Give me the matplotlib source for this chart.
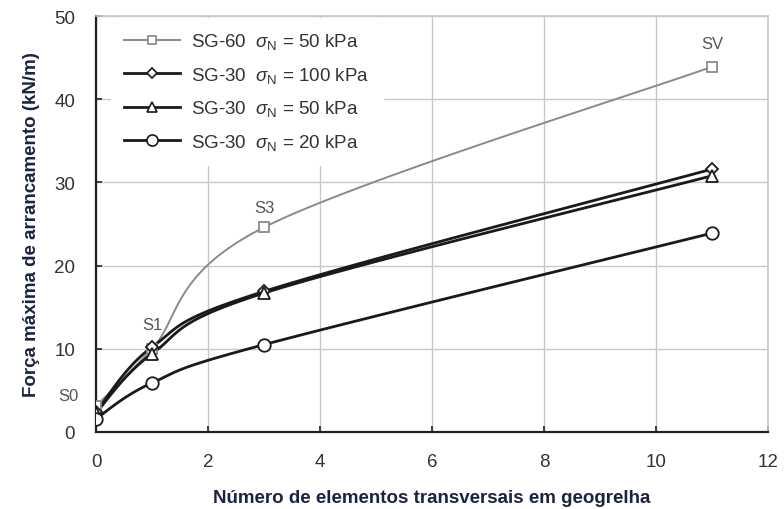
import numpy as np
import matplotlib
matplotlib.use('Agg')
import matplotlib.pyplot as plt

plt.rcParams['font.family'] = ['Liberation Sans', 'DejaVu Sans']
plt.rcParams['mathtext.fontset'] = 'custom'
plt.rcParams['mathtext.rm'] = 'Liberation Sans'
plt.rcParams['mathtext.it'] = 'Liberation Sans:italic'

# Pullout test results: number of transverse members vs. max pullout force
n_transv = [0, 1, 3, 11]
sg60_50 = [3.1, 10.0, 24.6, 43.9]
sg30_100 = [2.4, 10.2, 16.9, 31.6]
sg30_50 = [2.3, 9.4, 16.7, 30.8]
sg30_20 = [1.6, 5.9, 10.5, 23.9]

labels = [r'SG-60  $\sigma_{\rm N}$ = 50 kPa',
          r'SG-30  $\sigma_{\rm N}$ = 100 kPa',
          r'SG-30  $\sigma_{\rm N}$ = 50 kPa',
          r'SG-30  $\sigma_{\rm N}$ = 20 kPa']

stage_names = ['S0', 'S1', 'S3', 'SV']


def smooth_curve(x, y, steps=40):
    """Catmull-Rom style bezier smoothing (spreadsheet 'smoothed line')."""
    x = np.asarray(x, float)
    y = np.asarray(y, float)
    px, py = [], []
    n = len(x)
    for i in range(n - 1):
        x0, y0 = (x[i - 1], y[i - 1]) if i > 0 else (x[i], y[i])
        x3, y3 = (x[i + 2], y[i + 2]) if i + 2 < n else (x[i + 1], y[i + 1])
        c1x = x[i] + (x[i + 1] - x0) / 6
        c1y = y[i] + (y[i + 1] - y0) / 6
        c2x = x[i + 1] - (x3 - x[i]) / 6
        c2y = y[i + 1] - (y3 - y[i]) / 6
        t = np.linspace(0, 1, steps)
        bx = ((1 - t) ** 3 * x[i] + 3 * (1 - t) ** 2 * t * c1x
              + 3 * (1 - t) * t ** 2 * c2x + t ** 3 * x[i + 1])
        by = ((1 - t) ** 3 * y[i] + 3 * (1 - t) ** 2 * t * c1y
              + 3 * (1 - t) * t ** 2 * c2y + t ** 3 * y[i + 1])
        px.extend(bx)
        py.extend(by)
    return np.array(px), np.array(py)


fig = plt.figure(figsize=(7.84, 5.10), dpi=100)
ax = fig.add_axes([96 / 784, 77 / 510, 672 / 784, 416 / 510])

series = [
    (sg60_50, 's', '#8a8a8a', 1.4),
    (sg30_100, 'D', '#1a1a1a', 2.0),
    (sg30_50, '^', '#1a1a1a', 2.0),
    (sg30_20, 'o', '#1a1a1a', 2.0),
]
msizes = {'s': 7, 'D': 6, '^': 8, 'o': 9}

for (vals, mk, col, lw), lab in zip(series, labels):
    sx, sy = smooth_curve(n_transv, vals)
    ax.plot(sx, sy, color=col, lw=lw, zorder=3)
    ax.plot(n_transv, vals, ls='none', marker=mk, ms=msizes[mk],
            mfc='white', mec=col, mew=1.3, zorder=4)
    # legend proxy
    ax.plot([], [], color=col, lw=lw, marker=mk, ms=msizes[mk] - 1,
            mfc='white', mec=col, mew=1.2, label=lab)

# Stage annotations next to the SG-60 points
offsets = [(-20, 2), (0, 12), (0, 9), (0, 11)]
for xv, yv, name, (dx, dy) in zip(n_transv, sg60_50, stage_names, offsets):
    ax.annotate(name, (xv, yv), textcoords='offset points', xytext=(dx, dy),
                ha='center', va='bottom', fontsize=12, color='#555555')

ax.set_xlim(0, 12)
ax.set_ylim(0, 50)
ax.set_xticks(np.arange(0, 13, 2))
ax.set_yticks(np.arange(0, 51, 10))
ax.grid(True, color='#c8c8c8', lw=1.0, zorder=0)
ax.set_axisbelow(True)

for side in ['top', 'right']:
    ax.spines[side].set_color('#c8c8c8')
    ax.spines[side].set_linewidth(1.2)
for side in ['left', 'bottom']:
    ax.spines[side].set_color('#222222')
    ax.spines[side].set_linewidth(1.6)

ax.tick_params(direction='in', length=4, width=1.2, colors='#222222',
               labelcolor='#333333', labelsize=13.5)
ax.tick_params(axis='x', pad=15)
ax.tick_params(axis='y', pad=15)

ax.set_xlabel('Número de elementos transversais em geogrelha', fontsize=13.5,
              fontweight='bold', color='#1c2340', labelpad=14)
ax.set_ylabel('Força máxima de arrancamento (kN/m)', fontsize=13.5,
              fontweight='bold', color='#1c2340', labelpad=10)

leg = ax.legend(loc='upper left', bbox_to_anchor=(0.022, 0.995), frameon=True,
                fontsize=13.5, facecolor='white', edgecolor='white',
                framealpha=1.0, handlelength=3.0, borderaxespad=0.0,
                borderpad=0.7, labelspacing=0.72, handletextpad=0.6)
for t in leg.get_texts():
    t.set_color('#333333')

fig.savefig('out.png', dpi=100)
